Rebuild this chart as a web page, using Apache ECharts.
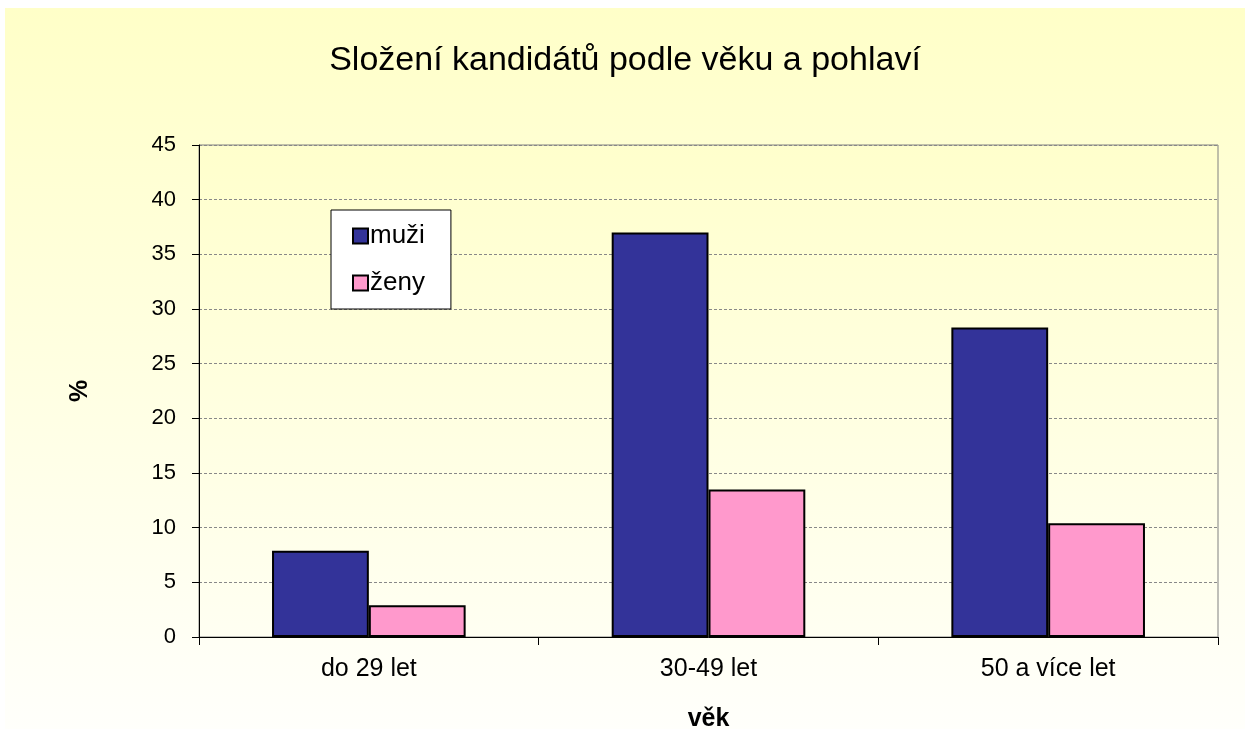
<!DOCTYPE html>
<html>
<head>
<meta charset="utf-8">
<script src="https://cdn.jsdelivr.net/npm/echarts@6/dist/echarts.min.js"></script>
<style>
html, body { margin: 0; padding: 0; background: #fff; }
#chart { width: 1245px; height: 729px; }
</style>
</head>
<body>
<div id="chart"></div>
<script>
// věkové kategorie a hodnoty (%)
var categories = ['do 29 let', '30-49 let', '50 a více let'];
var muzi = [7.9, 37.0, 28.3];
var zeny = [2.9, 13.5, 10.4];
var yTicks = { min: 0, max: 45, interval: 5 };

var font = '"Liberation Sans", Arial, sans-serif';

var chart = echarts.init(document.getElementById('chart'));

chart.setOption({
    animation: false,
    textStyle: { fontFamily: font, color: '#000' },
    graphic: [{
        type: 'rect',
        z: -10,
        shape: { x: 5, y: 8, width: 1240, height: 721 },
        style: {
            fill: new echarts.graphic.LinearGradient(0, 0, 0, 1, [
                { offset: 0, color: '#ffffc8' },
                { offset: 1, color: '#fffffb' }
            ])
        }
    }],
    title: {
        text: 'Složení kandidátů podle věku a pohlaví',
        left: 620,
        textAlign: 'center',
        top: 39,
        textStyle: { fontFamily: font, fontSize: 34, fontWeight: 'normal', color: '#000' }
    },
    legend: {
        orient: 'vertical',
        left: 331,
        top: 210,
        backgroundColor: '#fff',
        borderColor: '#000',
        borderWidth: 1,
        padding: [13, 26, 13, 21],
        itemWidth: 15,
        itemHeight: 15,
        itemGap: 21,
        icon: 'rect',
        textStyle: { fontFamily: font, fontSize: 26, color: '#000', padding: [0, 0, 0, -3] },
        data: ['muži', 'ženy']
    },
    grid: {
        left: 199,
        right: 27,
        top: 145,
        bottom: 92,
        outerBoundsMode: 'none',
        show: true,
        borderColor: '#808080',
        borderWidth: 1,
        backgroundColor: new echarts.graphic.LinearGradient(0, 0, 0, 1, [
            { offset: 0, color: '#ffffcc' },
            { offset: 1, color: '#fffff2' }
        ])
    },
    xAxis: {
        type: 'category',
        data: categories,
        name: 'věk',
        nameLocation: 'middle',
        nameGap: 70,
        nameTextStyle: { fontFamily: font, fontSize: 25, fontWeight: 'bold', color: '#000' },
        axisLine: { lineStyle: { color: '#000', width: 1 } },
        axisTick: { show: true, alignWithLabel: false, length: 8, lineStyle: { color: '#000' } },
        axisLabel: { fontFamily: font, fontSize: 25, color: '#000', margin: 20 },
        splitLine: { show: false }
    },
    yAxis: {
        type: 'value',
        min: yTicks.min,
        max: yTicks.max,
        interval: yTicks.interval,
        name: '%',
        nameLocation: 'middle',
        nameGap: 106,
        nameRotate: 90,
        nameTextStyle: { fontFamily: font, fontSize: 25, fontWeight: 'bold', color: '#000' },
        axisLine: { show: true, lineStyle: { color: '#000', width: 1 } },
        axisTick: { show: true, length: 7, lineStyle: { color: '#000' } },
        axisLabel: { fontFamily: font, fontSize: 22, color: '#000', margin: 23 },
        splitLine: { show: true, lineStyle: { color: '#888', type: [3, 2], width: 1 } }
    },
    series: [{
        name: 'muži',
        type: 'bar',
        data: muzi,
        barGap: '0%',
        barCategoryGap: '43%',
        itemStyle: { color: '#333399', borderColor: '#000', borderWidth: 2 }
    }, {
        name: 'ženy',
        type: 'bar',
        data: zeny,
        barGap: '0%',
        barCategoryGap: '43%',
        itemStyle: { color: '#ff99cc', borderColor: '#000', borderWidth: 2 }
    }]
});
</script>
</body>
</html>
